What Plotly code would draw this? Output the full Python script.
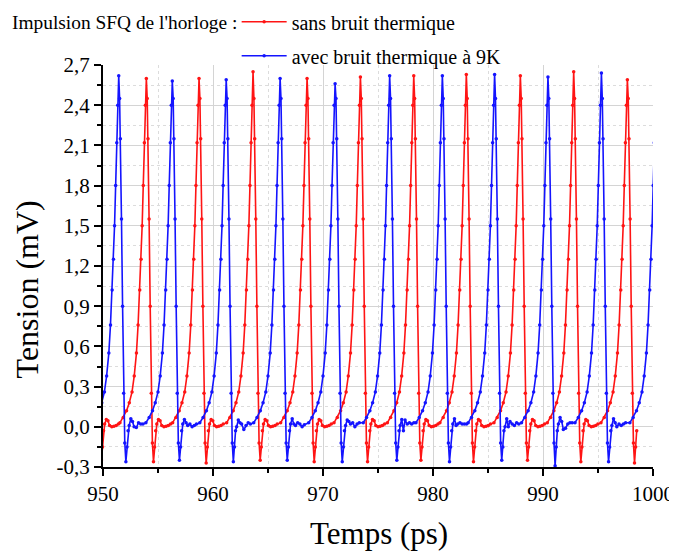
import plotly.graph_objects as go

# ---- pulse shape (time offset from peak in ps, tension in mV)
RISE_DT = [-2.4, -2.1, -1.8, -1.55, -1.3, -1.1, -0.9, -0.75, -0.6, -0.48, -0.38, -0.28, -0.18, -0.09]
RISE_V = [0.03, 0.07, 0.12, 0.18, 0.26, 0.38, 0.55, 0.76, 1.02, 1.25, 1.50, 1.80, 2.12, 2.40]
FALL_DT = [0.08, 0.15, 0.25, 0.35, 0.45, 0.55]
FALL_V = [2.45, 2.15, 1.55, 0.90, 0.25, -0.12]
BOTTOM_DT = 0.65
RECOV_DT = [0.75, 0.85]
RECOV_V = [-0.15, -0.03]
BASE_DT = [0.95, 1.1, 1.25, 1.4, 1.6, 1.8, 2.0, 2.2]

# ---- red : sans bruit thermique
RED_PEAK_T = [949.20, 953.94, 958.73, 963.64, 968.55, 973.40, 978.25, 983.03, 987.94, 992.79, 997.67]
RED_PEAK_V = [2.60, 2.60, 2.60, 2.65, 2.60, 2.61, 2.62, 2.63, 2.62, 2.65, 2.59]
RED_BOTTOM = [-0.25, -0.26, -0.27, -0.25, -0.26, -0.26, -0.25, -0.26, -0.25, -0.26, -0.27]
RED_BASE_V = [
    [0.02, 0.055, 0.045, 0.01, 0.0, 0.005, 0.01, 0.02],
] * 11

# ---- blue : avec bruit thermique à 9K
BLUE_PEAK_T = [951.43, 956.30, 961.20, 966.10, 971.10, 976.06, 980.85, 985.60, 990.45, 995.31, 1000.30]
BLUE_PEAK_V = [2.62, 2.58, 2.59, 2.60, 2.56, 2.62, 2.62, 2.63, 2.61, 2.64, 2.62]
BLUE_BOTTOM = [-0.26, -0.25, -0.26, -0.25, -0.26, -0.25, -0.26, -0.25, -0.29, -0.26, -0.26]
BLUE_BASE_V = [
    [0.01, 0.06, 0.04, 0.0, -0.005, 0.03, 0.02, 0.02],
    [0.02, 0.055, 0.03, 0.01, 0.02, 0.0, 0.01, 0.02],
    [0.0, 0.05, 0.03, 0.02, -0.02, 0.01, 0.03, 0.02],
    [0.02, 0.06, 0.02, 0.01, 0.03, 0.02, 0.0, 0.015],
    [0.01, 0.05, 0.04, 0.02, 0.03, 0.0, 0.02, 0.03],
    [0.01, 0.055, -0.03, 0.05, 0.02, 0.03, 0.02, 0.03],
    [0.02, 0.06, 0.01, 0.02, 0.03, 0.02, 0.02, 0.02],
    [0.0, 0.06, 0.0, 0.04, 0.02, 0.01, 0.03, 0.02],
    [0.02, 0.07, 0.04, -0.02, -0.01, 0.02, 0.03, 0.03],
    [0.01, 0.06, 0.03, 0.0, 0.02, 0.01, 0.02, 0.03],
]

X_TICKS = [950, 960, 970, 980, 990, 1000]
Y_TICKS = [-0.3, 0.0, 0.3, 0.6, 0.9, 1.2, 1.5, 1.8, 2.1, 2.4, 2.7]
Y_TICK_LABELS = ["-0,3", "0,0", "0,3", "0,6", "0,9", "1,2", "1,5", "1,8", "2,1", "2,4", "2,7"]

FONT = "Liberation Serif"


def build(peaks, heights, bottoms, bases):
    t, v = [], []
    n = len(peaks)
    for i, (tp, h, b) in enumerate(zip(peaks, heights, bottoms)):
        for dt, val in zip(RISE_DT, RISE_V):
            t.append(tp + dt); v.append(val)
        t.append(tp); v.append(h)
        for dt, val in zip(FALL_DT, FALL_V):
            t.append(tp + dt); v.append(val)
        t.append(tp + BOTTOM_DT); v.append(b)
        for dt, val in zip(RECOV_DT, RECOV_V):
            t.append(tp + dt); v.append(val)
        if i < n - 1 and i < len(bases):
            for dt, val in zip(BASE_DT, bases[i]):
                t.append(tp + dt); v.append(val)
    return t, v


rt, rv = build(RED_PEAK_T, RED_PEAK_V, RED_BOTTOM, RED_BASE_V)
bt, bv = build(BLUE_PEAK_T, BLUE_PEAK_V, BLUE_BOTTOM, BLUE_BASE_V)

fig = go.Figure()
fig.add_trace(go.Scatter(
    x=rt, y=rv, mode="lines+markers", name="sans bruit thermique", legendgroup="a",
    line=dict(color="rgb(255,20,20)", width=1.6),
    marker=dict(color="rgb(255,20,20)", size=3.5),
))
fig.add_trace(go.Scatter(
    x=bt, y=bv, mode="lines+markers", name="avec bruit thermique à 9K", legendgroup="b",
    line=dict(color="rgb(20,20,255)", width=1.6),
    marker=dict(color="rgb(20,20,255)", size=3.5),
))

axis_common = dict(
    showline=True, linecolor="black", linewidth=2,
    ticks="outside", ticklen=7, tickwidth=2, tickcolor="black",
    showgrid=True, gridcolor="#d4d4d4", gridwidth=1,
    zeroline=False, mirror=False,
    tickfont=dict(family=FONT, size=21, color="black"),
)

fig.update_xaxes(
    range=[950, 1000], tickvals=X_TICKS,
    minor=dict(dtick=5, tick0=950, ticks="outside", ticklen=4, tickwidth=2, tickcolor="black",
               showgrid=True, gridcolor="#dcdcdc", griddash="dot", gridwidth=1),
    **axis_common,
)
fig.update_yaxes(
    range=[-0.3, 2.7], tickvals=Y_TICKS, ticktext=Y_TICK_LABELS,
    minor=dict(dtick=0.15, tick0=-0.3, ticks="outside", ticklen=4, tickwidth=2, tickcolor="black",
               showgrid=True, gridcolor="#dcdcdc", griddash="dot", gridwidth=1),
    **axis_common,
)

# the page adds an 8 px body margin, so the figure is 8 px smaller and its margins shifted
fig.update_layout(
    width=669, height=543,
    margin=dict(l=95, r=24, t=57, b=84, autoexpand=False),
    plot_bgcolor="white", paper_bgcolor="white",
    font=dict(family=FONT, color="black"),
    showlegend=True,
    legend=dict(
        x=0.243, y=1.156, xanchor="left", yanchor="top",
        font=dict(family=FONT, size=20, color="black"),
        bgcolor="rgba(0,0,0,0)", itemwidth=45, tracegroupgap=5,
        traceorder="grouped",
    ),
    annotations=[
        dict(text="Impulsion SFQ de l'horloge :", xref="paper", yref="paper", x=-0.170, y=1.1045,
             showarrow=False, font=dict(family=FONT, size=19.4, color="black"),
             xanchor="left", yanchor="middle"),
        dict(text="Tension (mV)", xref="paper", yref="paper", x=-0.138, y=0.442,
             textangle=-90, showarrow=False, font=dict(family=FONT, size=32, color="black"),
             xanchor="center", yanchor="middle"),
        dict(text="Temps (ps)", xref="paper", yref="paper", x=0.501, y=-0.165,
             showarrow=False, font=dict(family=FONT, size=31, color="black"),
             xanchor="center", yanchor="middle"),
    ],
)

fig.write_html("out.html")
